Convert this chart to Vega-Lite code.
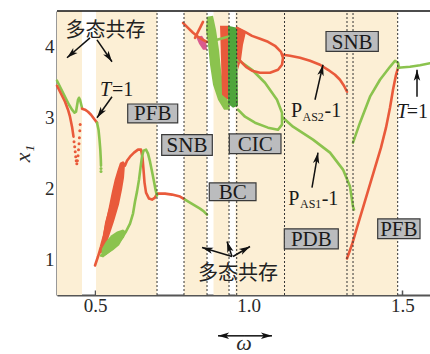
{
 "$schema": "https://vega.github.io/schema/vega-lite/v6.json",
 "width": 373, "height": 284,
 "autosize": {"type": "none"},
 "padding": {"left": 57, "top": 11, "right": 0, "bottom": 59},
 "background": "white",
 "config": {
  "view": {"stroke": null},
  "axis": {"domainColor": "#555", "domainWidth": 2.2, "tickColor": "#555", "tickWidth": 1.5, "tickSize": -5, "grid": false,
   "labelFont": "Liberation Serif", "labelFontSize": 19, "labelColor": "#2a2a2a",
   "titleFont": "Liberation Serif", "titleFontSize": 22, "titleFontStyle": "italic", "titleFontWeight": "normal", "titleColor": "#2a2a2a"},
  "axisX": {"labelPadding": 6, "titlePadding": 17},
  "axisY": {"labelPadding": 8, "titlePadding": 10}
 },
 "datasets": {
  "bands": [
   {"w": 0.3763, "w2": 0.4577, "v": 0.5, "v2": 4.5},
   {"w": 0.5033, "w2": 0.7018, "v": 0.5, "v2": 4.5},
   {"w": 0.7896, "w2": 0.8645, "v": 0.5, "v2": 4.5},
   {"w": 0.8856, "w2": 0.9361, "v": 0.5, "v2": 4.5},
   {"w": 0.9572, "w2": 1.4850, "v": 0.5, "v2": 4.5}
  ],
  "vlines": [
   {"w": 0.7018, "v": 0.5, "v2": 4.5}, {"w": 0.7896, "v": 0.5, "v2": 4.5}, {"w": 0.8645, "v": 0.5, "v2": 4.5},
   {"w": 0.9361, "v": 0.5, "v2": 4.5}, {"w": 0.9611, "v": 0.5, "v2": 4.5}, {"w": 1.1167, "v": 0.5, "v2": 4.5},
   {"w": 1.3200, "v": 0.5, "v2": 4.5}, {"w": 1.3396, "v": 0.5, "v2": 4.5}, {"w": 1.4850, "v": 0.5, "v2": 4.5}
  ],
  "topline": [{"w": 0.3763, "w2": 1.5901, "v": 4.5}],
  "polys": [
   {"s": "P4", "c": "g", "z": 1, "w": [0.8644,0.8840,0.8937,0.9035,0.9100,0.9198,0.9360,0.9393,0.9198,0.9002,0.8840,0.8742,0.8677,0.8612], "v": [4.418,4.432,4.235,3.954,3.672,3.391,3.194,3.110,3.110,3.250,3.461,3.743,4.024,4.235]},
   {"s": "P6", "c": "dg", "z": 1, "w": [0.9328,0.9621,0.9653,0.9491,0.9328], "v": [4.291,4.263,3.166,3.138,3.194]},
   {"s": "P3", "c": "p", "z": 1, "w": [0.8287,0.8482,0.8612,0.8644,0.8514,0.8384], "v": [4.136,4.150,4.066,3.954,3.954,4.038]},
   {"s": "P1", "c": "r", "z": 2, "w": [0.5130,0.5228,0.5325,0.5488,0.5586,0.5683,0.5781,0.5879,0.5976,0.5944,0.5879,0.5781,0.5618,0.5423,0.5228], "v": [1.070,1.253,1.520,1.773,1.984,2.153,2.294,2.364,2.336,2.153,1.984,1.773,1.534,1.281,1.099]},
   {"s": "P5", "c": "r", "z": 2, "w": [0.9068,0.9328,0.9328,0.9133,0.9100], "v": [4.291,4.291,3.250,3.321,3.813]},
   {"s": "P7", "c": "r", "z": 2, "w": [0.9621,0.9914,0.9816,0.9751,0.9653,0.9621], "v": [4.277,4.207,4.024,3.813,3.672,3.813]},
   {"s": "P2", "c": "g", "z": 3, "w": [0.5195,0.5228,0.5358,0.5521,0.5716,0.5911,0.6009,0.5944,0.5781,0.5586,0.5390,0.5260], "v": [1.042,1.155,1.253,1.338,1.394,1.422,1.394,1.310,1.225,1.141,1.070,1.028]}
  ],
  "lines": [
   {"s": "L2", "c": "g", "w": [0.3763,0.3861,0.3959,0.4056,0.4154,0.4252,0.4333,0.4382,0.4414,0.4447,0.4479,0.4512,0.4544,0.4577], "v": [3.518,3.433,3.349,3.264,3.180,3.110,3.067,3.081,3.166,3.250,3.278,3.250,3.194,3.138]},
   {"s": "L1", "c": "r", "w": [0.3763,0.3894,0.4024,0.4121,0.4186,0.4252,0.4300], "v": [3.447,3.335,3.222,3.110,3.011,2.871,2.730]},
   {"s": "L3", "c": "r", "w": [0.4577,0.4675,0.4772,0.4870,0.4967,0.5065], "v": [3.124,3.110,3.081,3.039,2.983,2.927]},
   {"s": "L4", "c": "g", "w": [0.5065,0.5114,0.5146,0.5172,0.5189,0.5195], "v": [2.927,2.828,2.688,2.547,2.406,2.322]},
   {"s": "L5", "c": "r", "w": [0.5000,0.5098,0.5195,0.5293,0.5390,0.5488,0.5586,0.5683,0.5781,0.5846,0.5911,0.5976,0.6041,0.6139,0.6269,0.6399,0.6497,0.6546,0.6578,0.6611,0.6660,0.6757,0.6855,0.6952,0.7017,0.7278,0.7506,0.7766,0.7929], "v": [0.916,1.042,1.183,1.338,1.534,1.731,1.942,2.125,2.266,2.350,2.364,2.322,2.392,2.448,2.505,2.547,2.547,2.434,2.266,2.083,1.942,1.858,1.844,1.872,1.928,1.928,1.914,1.886,1.844]},
   {"s": "L6", "c": "g", "w": [0.5195,0.5358,0.5553,0.5748,0.5879,0.6009,0.6139,0.6237,0.6302,0.6367,0.6432,0.6481,0.6529,0.6578,0.6660,0.6725,0.6790,0.6855,0.6920,0.6969,0.7017], "v": [1.056,1.085,1.141,1.211,1.310,1.394,1.506,1.647,1.816,1.956,2.125,2.294,2.448,2.533,2.547,2.491,2.378,2.238,2.097,1.984,1.900]},
   {"s": "L7", "c": "g", "w": [0.7929,0.8091,0.8254,0.8417,0.8547,0.8644], "v": [1.844,1.802,1.760,1.717,1.675,1.633]},
   {"s": "L8", "c": "r", "w": [0.7864,0.8026,0.8189,0.8352,0.8514,0.8644], "v": [4.333,4.263,4.193,4.136,4.094,4.066]},
   {"s": "L9", "c": "r", "w": [0.8514,0.8417,0.8319,0.8254], "v": [4.347,4.263,4.179,4.122]},
   {"s": "L13", "c": "g", "w": [0.8970,0.9328], "v": [4.094,4.136]},
   {"s": "L12", "c": "g", "w": [0.9653,1.0109,1.0532,1.0922,1.1085,1.1085,1.0955,1.0629,1.0206,0.9881,0.9653], "v": [3.813,3.672,3.489,3.250,3.067,2.900,2.828,2.857,2.927,3.011,3.110]},
   {"s": "L10", "c": "r", "w": [0.9621,0.9881,1.0109,1.0369,1.0629,1.0857,1.1052,1.1118,1.1085,1.0955,1.0695,1.0369,1.0109,0.9914,0.9751,0.9653], "v": [4.263,4.207,4.150,4.108,4.066,4.010,3.925,3.841,3.743,3.672,3.630,3.630,3.658,3.714,3.785,3.841]},
   {"s": "L11", "c": "r", "w": [1.1118,1.1345,1.1671,1.1996,1.2322,1.2582,1.2810,1.2972,1.3102,1.3200], "v": [3.883,3.869,3.841,3.799,3.743,3.672,3.602,3.532,3.447,3.363]},
   {"s": "L14", "c": "g", "w": [1.1118,1.1443,1.2094,1.2647,1.3070,1.3298,1.3395,1.3428], "v": [2.997,2.871,2.688,2.505,2.266,2.027,1.745,1.703]},
   {"s": "L17", "c": "r", "w": [1.3200,1.3363,1.3525,1.3721,1.3916,1.4111,1.4306,1.4469,1.4599,1.4697,1.4795,1.4860], "v": [1.014,1.211,1.450,1.731,2.013,2.294,2.575,2.857,3.138,3.391,3.602,3.700]},
   {"s": "L15", "c": "g", "w": [1.3395,1.3623,1.3949,1.4274,1.4599,1.4762,1.4860,1.4892], "v": [2.646,2.927,3.293,3.532,3.714,3.799,3.771,3.700]},
   {"s": "L16", "c": "g", "w": [1.4860,1.5250,1.5576,1.5901], "v": [3.700,3.714,3.736,3.764]}
  ],
  "dots": [
   {"c": "r", "w": [0.4317,0.4339,0.4356,0.4372,0.4388,0.4408,0.4427,0.4447,0.4463,0.4479,0.4492,0.4505,0.4518], "v": [2.659,2.589,2.519,2.448,2.392,2.350,2.392,2.463,2.547,2.631,2.716,2.814,2.900]},
   {"c": "g", "w": [0.5195,0.5195], "v": [2.280,2.238]}
  ],
  "boxes": [
   {"t": "PFB", "w": 0.6064, "w2": 0.7691, "v": 3.190, "v2": 2.923, "wc": 0.6878, "vc": 3.057},
   {"t": "SNB", "w": 0.7170, "w2": 0.8817, "v": 2.758, "v2": 2.467, "wc": 0.7994, "vc": 2.613},
   {"t": "CIC", "w": 0.9370, "w2": 1.1052, "v": 2.768, "v2": 2.491, "wc": 1.0211, "vc": 2.630},
   {"t": "SNB", "w": 1.2517, "w2": 1.4219, "v": 4.211, "v2": 3.930, "wc": 1.3368, "vc": 4.070},
   {"t": "BC", "w": 0.8719, "w2": 1.0239, "v": 2.079, "v2": 1.830, "wc": 0.9479, "vc": 1.955},
   {"t": "PDB", "w": 1.1160, "w2": 1.2917, "v": 1.432, "v2": 1.150, "wc": 1.2039, "vc": 1.291},
   {"t": "PFB", "w": 1.4199, "w2": 1.5576, "v": 1.572, "v2": 1.295, "wc": 1.4888, "vc": 1.434}
  ],
  "txtReg": [
   {"t": "=1", "w": 0.5553, "v": 3.307},
   {"t": "=1", "w": 1.5143, "v": 2.993},
   {"t": "P", "w": 1.1378, "v": 3.007},
   {"t": "-1", "w": 1.2468, "v": 3.007},
   {"t": "P", "w": 1.1290, "v": 1.773},
   {"t": "-1", "w": 1.2377, "v": 1.773}
  ],
  "txtIt": [
   {"t": "T", "w": 0.5163, "v": 3.307},
   {"t": "T", "w": 1.4817, "v": 2.993}
  ],
  "txtSub": [
   {"t": "AS2", "w": 1.1752, "v": 2.955},
   {"t": "AS1", "w": 1.1671, "v": 1.724}
  ],
  "txtCjk": [
   {"t": "多态共存", "w": 0.5342, "v": 4.221},
   {"t": "多态共存", "w": 0.9653, "v": 0.789}
  ],
  "arrows": [
   {"w": 0.4837, "v": 4.122, "w2": 0.4089, "v2": 3.841, "a": 229},
   {"w": 0.5065, "v": 4.094, "w2": 0.5553, "v2": 3.785, "a": 146},
   {"w": 0.5553, "v": 3.293, "w2": 0.5065, "v2": 2.997, "a": 215},
   {"w": 1.2159, "v": 3.250, "w2": 1.2419, "v2": 3.743, "a": 13},
   {"w": 1.2061, "v": 2.013, "w2": 1.2256, "v2": 2.505, "a": 10},
   {"w": 1.5478, "v": 3.293, "w2": 1.5478, "v2": 3.672, "a": 0},
   {"w": 0.9458, "v": 1.042, "w2": 0.8482, "v2": 1.169, "a": 287},
   {"w": 0.9458, "v": 1.042, "w2": 0.9295, "v2": 1.253, "a": 342},
   {"w": 0.9491, "v": 1.042, "w2": 1.0044, "v2": 1.183, "a": 61},
   {"w": 0.988, "v": -0.075, "w2": 0.9002, "v2": -0.075, "a": 270},
   {"w": 0.988, "v": -0.075, "w2": 1.0760, "v2": -0.075, "a": 90}
  ]
 },
 "encoding": {
  "x": {"field": "w", "type": "quantitative", "scale": {"domain": [0.3763, 1.5901], "nice": false, "zero": false},
        "axis": {"values": [0.5, 1, 1.5], "format": ".1f", "title": "ω"}},
  "y": {"field": "v", "type": "quantitative", "scale": {"domain": [0.5, 4.5], "nice": false, "zero": false},
        "axis": {"values": [1, 2, 3, 4], "format": "d", "title": "x₁"}}
 },
 "layer": [
  {"data": {"name": "bands"}, "mark": {"type": "rect", "color": "#FCEFD5"},
   "encoding": {"x2": {"field": "w2"}, "y2": {"field": "v2"}}},
  {"data": {"name": "polys"}, "transform": [{"flatten": ["w", "v"]}, {"filter": "datum.z == 1"}],
   "mark": {"type": "line", "filled": true},
   "encoding": {"detail": {"field": "s"}, "order": {"value": null},
    "color": {"field": "c", "type": "nominal", "legend": null, "scale": {"domain": ["r", "g", "dg", "p"], "range": ["#E95A3B", "#8BC34E", "#4FA53B", "#D95C8E"]}}}},
  {"data": {"name": "polys"}, "transform": [{"flatten": ["w", "v"]}, {"filter": "datum.z == 2"}],
   "mark": {"type": "line", "filled": true},
   "encoding": {"detail": {"field": "s"}, "order": {"value": null},
    "color": {"field": "c", "type": "nominal", "legend": null}}},
  {"data": {"name": "lines"}, "transform": [{"flatten": ["w", "v"]}],
   "mark": {"type": "line", "strokeWidth": 2.6, "strokeCap": "round", "strokeJoin": "round"},
   "encoding": {"detail": {"field": "s"}, "order": {"value": null},
    "color": {"field": "c", "type": "nominal", "legend": null}}},
  {"data": {"name": "polys"}, "transform": [{"flatten": ["w", "v"]}, {"filter": "datum.z == 3"}],
   "mark": {"type": "line", "filled": true},
   "encoding": {"detail": {"field": "s"}, "order": {"value": null},
    "color": {"field": "c", "type": "nominal", "legend": null}}},
  {"data": {"name": "dots"}, "transform": [{"flatten": ["w", "v"]}],
   "mark": {"type": "point", "filled": true, "size": 9, "opacity": 1},
   "encoding": {"color": {"field": "c", "type": "nominal", "legend": null}}},
  {"data": {"name": "vlines"}, "mark": {"type": "rule", "color": "#333", "strokeWidth": 1, "strokeDash": [2, 2]},
   "encoding": {"y2": {"field": "v2"}}},
  {"data": {"name": "topline"}, "mark": {"type": "rule", "color": "#111", "strokeWidth": 1.5},
   "encoding": {"x2": {"field": "w2"}}},
  {"data": {"name": "boxes"}, "mark": {"type": "rect", "fill": "#BBBCBE", "stroke": "#3a3a3a", "strokeWidth": 1.2},
   "encoding": {"x2": {"field": "w2"}, "y2": {"field": "v2"}}},
  {"data": {"name": "boxes"}, "mark": {"type": "text", "font": "Liberation Serif", "fontSize": 21, "color": "#1a1a1a", "align": "center", "baseline": "middle", "dy": 1},
   "encoding": {"x": {"field": "wc", "type": "quantitative"}, "y": {"field": "vc", "type": "quantitative"}, "text": {"field": "t"}}},
  {"data": {"name": "txtReg"}, "mark": {"type": "text", "font": "Liberation Serif", "fontSize": 20, "color": "#1a1a1a", "align": "left", "baseline": "alphabetic"},
   "encoding": {"text": {"field": "t"}}},
  {"data": {"name": "txtIt"}, "mark": {"type": "text", "font": "Liberation Serif", "fontSize": 20, "fontStyle": "italic", "color": "#1a1a1a", "align": "left", "baseline": "alphabetic"},
   "encoding": {"text": {"field": "t"}}},
  {"data": {"name": "txtSub"}, "mark": {"type": "text", "font": "Liberation Serif", "fontSize": 12, "color": "#1a1a1a", "align": "left", "baseline": "alphabetic"},
   "encoding": {"text": {"field": "t"}}},
  {"data": {"name": "txtCjk"}, "mark": {"type": "text", "font": "Noto Sans CJK SC", "fontSize": 20, "color": "#222", "align": "center", "baseline": "middle"},
   "encoding": {"text": {"field": "t"}}},
  {"data": {"name": "arrows"}, "mark": {"type": "rule", "color": "#111", "strokeWidth": 1.5},
   "encoding": {"x2": {"field": "w2"}, "y2": {"field": "v2"}}},
  {"data": {"name": "arrows"}, "mark": {"type": "point", "shape": "M0,0L0.7,2.4L0,1.8L-0.7,2.4Z", "filled": true, "size": 85, "color": "#111", "opacity": 1, "strokeWidth": 0},
   "encoding": {"x": {"field": "w2", "type": "quantitative"}, "y": {"field": "v2", "type": "quantitative"}, "angle": {"field": "a", "type": "quantitative", "scale": null}}}
 ]
}
